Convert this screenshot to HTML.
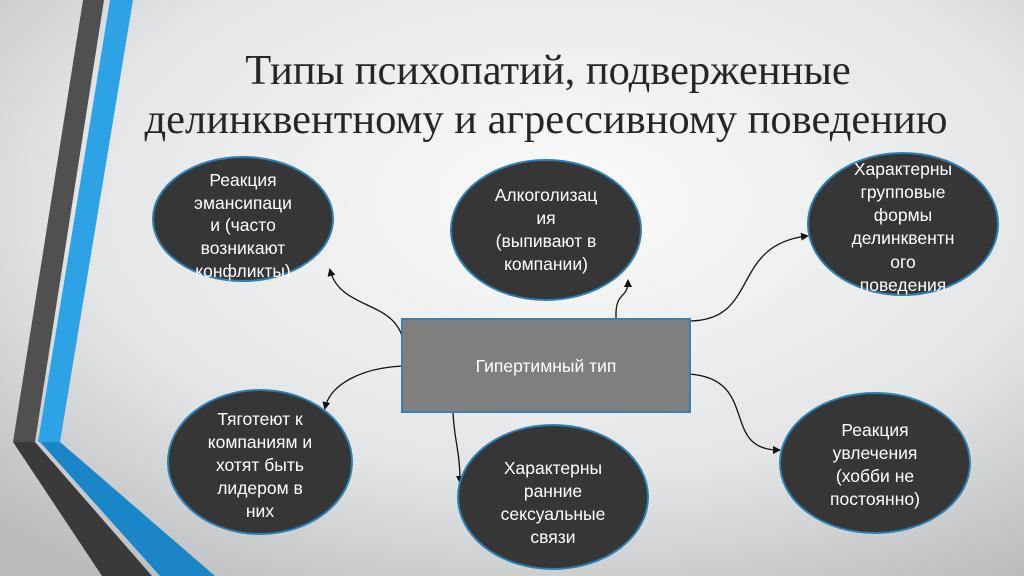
<!DOCTYPE html>
<html><head><meta charset="utf-8"><style>
html,body{margin:0;padding:0;width:1024px;height:576px;overflow:hidden}
svg{display:block}
.t{font-family:"Liberation Sans",sans-serif;font-size:17.5px;fill:#fff;text-anchor:middle}
.h{font-family:"Liberation Serif",serif;font-size:42.5px;fill:#262626;text-anchor:middle}
.c{fill:none;stroke:#111;stroke-width:1.3}
</style></head><body>
<svg width="1024" height="576" viewBox="0 0 1024 576">
<defs>
<radialGradient id="bg" cx="0.55" cy="0.35" r="0.8">
<stop offset="0" stop-color="#fbfbfb"/><stop offset="0.6" stop-color="#e4e5e6"/><stop offset="1" stop-color="#b8babc"/>
</radialGradient>
<marker id="a" markerWidth="8" markerHeight="8" refX="6" refY="4" orient="auto" markerUnits="userSpaceOnUse"><path d="M0,0 L8,4 L0,8 z" fill="#111"/></marker>
</defs>
<rect width="1024" height="576" fill="url(#bg)"/>
<polygon points="83,0 104,0 35,442 13,442" fill="#505050"/>
<polygon points="110,0 133,0 60,442 38,442" fill="#2da3e6"/>
<polygon points="13,442 35,442 152,576 102,576" fill="#3a3a3a"/>
<polygon points="40,442 60,442 215,576 160,576" fill="#1a86c8"/>
<text class="h" x="548" y="84">Типы психопатий, подверженные</text>
<text class="h" x="546" y="133">делинквентному и агрессивному поведению</text>
<path class="c" d="M403,340 C395,300 340,310 330,270" marker-end="url(#a)"/>
<path class="c" d="M403,366 C360,368 330,385 325,408" marker-end="url(#a)"/>
<path class="c" d="M453,412 C454,440 460,450 460,482" marker-end="url(#a)"/>
<path class="c" d="M616,318 C615,290 628,300 628,281" marker-end="url(#a)"/>
<path class="c" d="M690,321 C760,320 730,245 807,236" marker-end="url(#a)"/>
<path class="c" d="M690,374 C760,380 720,450 779,450" marker-end="url(#a)"/>
<g fill="#363636" stroke="#2b7fb3" stroke-width="2">
<ellipse cx="243" cy="219" rx="90" ry="62"/>
<ellipse cx="546" cy="230" rx="95" ry="70"/>
<ellipse cx="903" cy="224" rx="95" ry="71"/>
<ellipse cx="260" cy="462" rx="92" ry="72"/>
<ellipse cx="553" cy="497" rx="95" ry="72"/>
<ellipse cx="875" cy="463" rx="95" ry="70"/>
</g>
<rect x="402" y="319" width="288" height="93" fill="#7f7f7f" stroke="#3a7fb8" stroke-width="2"/>
<text class="t" x="546" y="372">Гипертимный тип</text>
<text class="t" x="243" y="186">Реакция</text>
<text class="t" x="243" y="209">эмансипаци</text>
<text class="t" x="243" y="231">и (часто</text>
<text class="t" x="243" y="254">возникают</text>
<text class="t" x="243" y="277">конфликты)</text>
<text class="t" x="546" y="201">Алкоголизац</text>
<text class="t" x="546" y="224">ия</text>
<text class="t" x="546" y="247">(выпивают в</text>
<text class="t" x="546" y="270">компании)</text>
<text class="t" x="903" y="175">Характерны</text>
<text class="t" x="903" y="198">групповые</text>
<text class="t" x="903" y="221">формы</text>
<text class="t" x="903" y="244">делинквентн</text>
<text class="t" x="903" y="268">ого</text>
<text class="t" x="903" y="291">поведения</text>
<text class="t" x="260" y="425">Тяготеют к</text>
<text class="t" x="260" y="448">компаниям и</text>
<text class="t" x="260" y="471">хотят быть</text>
<text class="t" x="260" y="494">лидером в</text>
<text class="t" x="260" y="517">них</text>
<text class="t" x="553" y="474">Характерны</text>
<text class="t" x="553" y="497">ранние</text>
<text class="t" x="553" y="520">сексуальные</text>
<text class="t" x="553" y="543">связи</text>
<text class="t" x="875" y="436">Реакция</text>
<text class="t" x="875" y="459">увлечения</text>
<text class="t" x="875" y="482">(хобби не</text>
<text class="t" x="875" y="505">постоянно)</text>
</svg>
</body></html>
